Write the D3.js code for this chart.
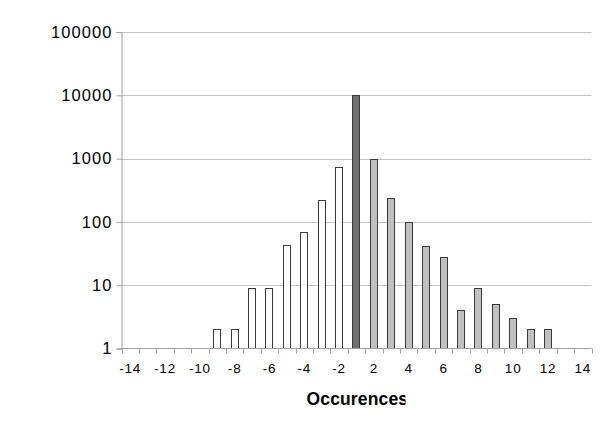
<!DOCTYPE html>
<html>
<head>
<meta charset="utf-8">
<script src="https://cdn.jsdelivr.net/npm/d3@7"></script>
<style>
  body { margin: 0; background: #fff; }
  text { font-family: "Liberation Sans", Arial, sans-serif; fill: #000; }
</style>
</head>
<body>
<svg></svg>
<script>
const categories = ["-14", "-13", "-12", "-11", "-10", "-9", "-8", "-7", "-6", "-5", "-4", "-3", "-2",
      "1", "2", "3", "4", "5", "6", "7", "8", "9", "10", "11", "12", "13", "14"]

const counts = [null, null, null, null, null, 2, 2, 9, 9, 43, 70, 225, 750,
      10000, 1000, 240, 100, 41, 28, 4, 9, 5, 3, 2, 2, null, null]

const groups = ["neg", "neg", "neg", "neg", "neg", "neg", "neg", "neg", "neg", "neg", "neg", "neg", "neg",
      "mid", "pos", "pos", "pos", "pos", "pos", "pos", "pos", "pos", "pos", "pos", "pos", "pos", "pos"]

const yTicks = [1, 10, 100, 1000, 10000, 100000]

const fills = { neg: "#ffffff", mid: "#6f6f6f", pos: "#c0c0c0" }

const width = 600
const height = 424
const plotLeft = 121.5, plotRight = 591.5, plotTop = 32, plotBottom = 348.5

const svg = d3.select("svg")
      .attr("width", width)
      .attr("height", height)

const x = d3.scaleBand()
      .domain(categories)
      .range([plotLeft, plotRight])
      .paddingInner(0.54)
      .paddingOuter(0.27)

const y = d3.scaleLog()
      .domain([1, 100000])
      .range([plotBottom, plotTop])

// gridlines
svg.append("g")
      .attr("stroke", "#c4c4c4")
      .selectAll("line")
      .data(yTicks.slice(1))
      .join("line")
      .attr("x1", plotLeft)
      .attr("x2", plotRight)
      .attr("y1", d => Math.round(y(d)) + 0.5)
      .attr("y2", d => Math.round(y(d)) + 0.5)

// y axis
const yAxis = svg.append("g")
      .attr("transform", `translate(${plotLeft},0)`)
      .call(d3.axisLeft(y).tickValues(yTicks).tickFormat(d3.format("d")).tickSize(5).tickPadding(5))
yAxis.select(".domain").attr("stroke", "#a0a0a0")
yAxis.selectAll(".tick line").attr("stroke", "#a0a0a0")
yAxis.selectAll(".tick text")
      .attr("font-size", 16.5)
      .attr("letter-spacing", 1.1)
      .attr("dx", 1.1)
      .attr("font-family", "Liberation Sans, Arial, sans-serif")
      .attr("fill", "#000")

// bars
const data = categories.map((c, i) => ({ cat: c, value: counts[i], group: groups[i] }))
      .filter(d => d.value != null)

svg.append("g")
      .selectAll("rect")
      .data(data)
      .join("rect")
      .attr("x", d => Math.round(x(d.cat)) + 0.5)
      .attr("width", Math.round(x.bandwidth()) - 1)
      .attr("y", d => Math.round(y(d.value)) + 0.5)
      .attr("height", d => plotBottom - Math.round(y(d.value)) - 0.5)
      .attr("fill", d => fills[d.group])
      .attr("stroke", "#3a3a3a")
      .attr("stroke-width", 1)

// x axis line and boundary ticks
const boundaries = d3.range(categories.length + 1).map(i => plotLeft + i * x.step())
svg.append("line")
      .attr("x1", plotLeft).attr("x2", plotRight)
      .attr("y1", plotBottom).attr("y2", plotBottom)
      .attr("stroke", "#a0a0a0")
svg.append("g")
      .attr("stroke", "#a0a0a0")
      .selectAll("line")
      .data(boundaries)
      .join("line")
      .attr("x1", d => Math.round(d) + 0.5)
      .attr("x2", d => Math.round(d) + 0.5)
      .attr("y1", plotBottom)
      .attr("y2", plotBottom + 5)

// x labels every second category
const xAxis = svg.append("g")
      .attr("transform", `translate(0,${plotBottom})`)
      .call(d3.axisBottom(x).tickValues(categories.filter((c, i) => i % 2 === 0 && c !== "1")).tickSize(0).tickPadding(15))
xAxis.select(".domain").remove()
xAxis.selectAll(".tick text")
      .attr("font-size", 13.5)
      .attr("letter-spacing", 0.8)
      .attr("font-family", "Liberation Sans, Arial, sans-serif")
      .attr("fill", "#000")

// x title, clipped at the right like the original
svg.append("clipPath").attr("id", "tclip")
      .append("rect").attr("x", 250).attr("y", 380).attr("width", 155.5).attr("height", 40)
svg.append("text")
      .attr("clip-path", "url(#tclip)")
      .attr("x", 306.5)
      .attr("y", 405)
      .attr("font-size", 17.5)
      .attr("letter-spacing", 0.15)
      .attr("font-weight", "bold")
      .text("Occurences")
</script>
</body>
</html>
